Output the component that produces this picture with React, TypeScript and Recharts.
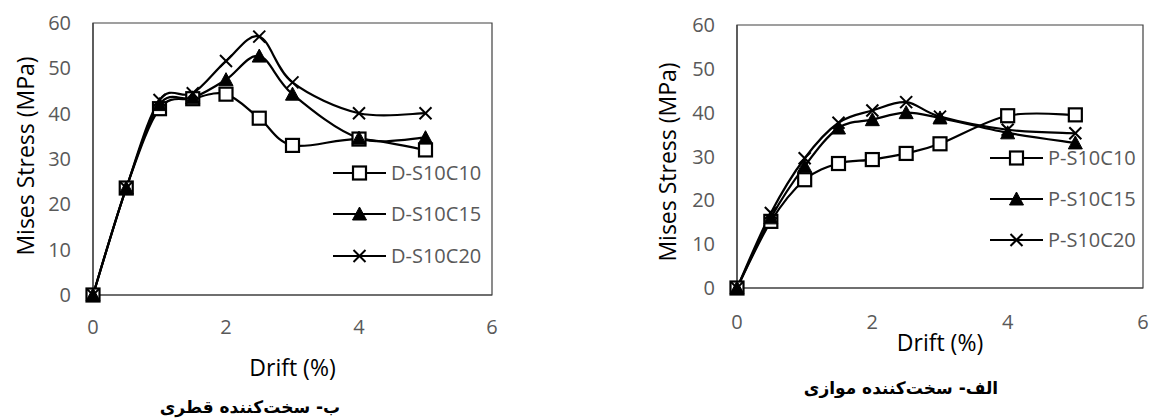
import React from "react";
import { LineChart, Line, XAxis, YAxis, Legend, ReferenceArea } from "recharts";

// drift steps (%) shared by every series
const drift = [0, 0.5, 1, 1.5, 2, 2.5, 3, 4, 5];

// diagonal stiffener (left panel)
const dS10C10 = [0, 23.6, 41.1, 43.3, 44.3, 39, 33, 34.4, 32];
const dS10C15 = [0, 23.6, 42, 43.5, 47.5, 52.7, 44.3, 34.6, 34.7];
const dS10C20 = [0, 23.6, 43, 44.5, 51.6, 57, 46.9, 40.1, 40.1];

// parallel stiffener (right panel)
const pS10C10 = [0, 15.2, 24.7, 28.4, 29.3, 30.7, 32.9, 39.3, 39.5];
const pS10C15 = [0, 16, 27.8, 36.5, 38.4, 40, 38.8, 35.4, 33.1];
const pS10C20 = [0, 17.1, 29.6, 37.7, 40.5, 42.4, 39.1, 36.1, 35.3];

const xTicks = [0, 2, 4, 6];
const yTicks = [0, 10, 20, 30, 40, 50, 60];
const markers = ["square", "triangle", "cross"];

const FONT = "'Open Sans', sans-serif";
const TICK_GRAY = "#595959";

// Excel-like smoothed line (Catmull-Rom through the points)
const excelCurve = (ctx: any) => {
  let pts: number[][] = [];
  return {
    areaStart() {},
    areaEnd() {},
    lineStart() {
      pts = [];
    },
    point(x: number, y: number) {
      pts.push([+x, +y]);
    },
    lineEnd() {
      if (!pts.length) return;
      ctx.moveTo(pts[0][0], pts[0][1]);
      for (let i = 0; i < pts.length - 1; i++) {
        const p0 = pts[i - 1] || pts[i];
        const p1 = pts[i];
        const p2 = pts[i + 1];
        const p3 = pts[i + 2] || p2;
        ctx.bezierCurveTo(
          p1[0] + (p2[0] - p0[0]) / 6,
          p1[1] + (p2[1] - p0[1]) / 6,
          p2[0] - (p3[0] - p1[0]) / 6,
          p2[1] - (p3[1] - p1[1]) / 6,
          p2[0],
          p2[1]
        );
      }
    },
  };
};

function Marker({ kind, cx, cy }: { kind: string; cx: number; cy: number }) {
  if (kind === "square") {
    return <rect x={cx - 6.5} y={cy - 6.5} width={13} height={13} fill="#fff" stroke="#000" strokeWidth={2.2} />;
  }
  if (kind === "triangle") {
    return <polygon points={`${cx},${cy - 7} ${cx + 7},${cy + 6} ${cx - 7},${cy + 6}`} fill="#000" stroke="#000" strokeWidth={1} />;
  }
  return (
    <g stroke="#000" strokeWidth={2}>
      <line x1={cx - 6} y1={cy - 6} x2={cx + 6} y2={cy + 6} />
      <line x1={cx - 6} y1={cy + 6} x2={cx + 6} y2={cy - 6} />
    </g>
  );
}

function buildRows(series: number[][]) {
  return drift.map((d, i) => ({ drift: d, a: series[0][i], b: series[1][i], c: series[2][i] }));
}

interface PanelProps {
  left: number;
  width: number;
  margin: { top: number; right: number; bottom: number; left: number };
  series: number[][];
  names: string[];
  yTitleX: number;
  yTitleY: number;
  xTitleDy: number;
  xTickMargin: number;
  legendLeft: number;
  legendTop: number;
  legendRow: number;
}

function Panel(p: PanelProps) {
  const rows = buildRows(p.series);
  const keys = ["a", "b", "c"];

  const renderLegend = (props: any) => {
    const items = props.payload || [];
    return (
      <div style={{ width: 170 }}>
        {items.map((it: any) => {
          const idx = keys.indexOf(it.dataKey);
          return (
            <div key={it.value} style={{ display: "flex", alignItems: "center", height: p.legendRow }}>
              <svg width={53} height={20}>
                <line x1={0} y1={10} x2={53} y2={10} stroke="#000" strokeWidth={2.2} />
                <Marker kind={markers[idx]} cx={26.5} cy={10} />
              </svg>
              <span style={{ marginLeft: 5, fontFamily: FONT, fontSize: 20, color: TICK_GRAY, lineHeight: "20px" }}>
                {it.value}
              </span>
            </div>
          );
        })}
      </div>
    );
  };

  return (
    <div style={{ position: "absolute", left: p.left, top: 0 }}>
      <LineChart width={p.width} height={419} data={rows} margin={p.margin}>
        <ReferenceArea x1={0} x2={6} y1={0} y2={60} fill="none" stroke="#404040" strokeWidth={1.2} />
        <XAxis
          dataKey="drift"
          type="number"
          domain={[0, 6]}
          ticks={xTicks}
          height={60}
          tickLine={false}
          tickSize={0}
          tickMargin={p.xTickMargin}
          axisLine={{ stroke: "#404040", strokeWidth: 1.2 }}
          tick={{ fill: TICK_GRAY, fontSize: 20, fontFamily: FONT }}
          label={{
            content: (lp: any) => {
              const vb = lp.viewBox;
              return (
                <text x={vb.x + vb.width / 2} y={vb.y + p.xTitleDy} textAnchor="middle" dominantBaseline="central"
                  fontFamily={FONT} fontSize={23} fill="#000">
                  Drift (%)
                </text>
              );
            },
          }}
        />
        <YAxis
          type="number"
          domain={[0, 60]}
          ticks={yTicks}
          width={60}
          tickLine={false}
          tickSize={0}
          tickMargin={22}
          axisLine={{ stroke: "#404040", strokeWidth: 1.2 }}
          tick={{ fill: TICK_GRAY, fontSize: 20, fontFamily: FONT }}
          label={{
            content: () => (
              <text x={p.yTitleX} y={p.yTitleY} textAnchor="middle" dominantBaseline="central"
                transform={`rotate(-90, ${p.yTitleX}, ${p.yTitleY})`} fontFamily={FONT} fontSize={23} fill="#000">
                Mises Stress (MPa)
              </text>
            ),
          }}
        />
        <Legend
          layout="horizontal"
          verticalAlign="middle"
          align="center"
          content={renderLegend}
          wrapperStyle={{ left: p.legendLeft, top: p.legendTop, width: 170, right: "auto", bottom: "auto" }}
        />
        {keys.map((k, i) => (
          <Line
            key={k}
            dataKey={k}
            name={p.names[i]}
            type={excelCurve as any}
            stroke="#000"
            strokeWidth={2.2}
            dot={(dp: any) => <Marker key={`${k}-${dp.index}`} kind={markers[i]} cx={dp.cx} cy={dp.cy} />}
            activeDot={false}
            isAnimationActive={false}
          />
        ))}
      </LineChart>
    </div>
  );
}

const captionStyle: React.CSSProperties = {
  position: "absolute",
  width: 300,
  textAlign: "center",
  fontFamily: "'DejaVu Sans', sans-serif",
  fontWeight: "bold",
  fontSize: 17,
  lineHeight: "24px",
  direction: "rtl",
  color: "#000",
};

export default function App() {
  return (
    <div style={{ position: "absolute", left: 0, top: 0, width: 1153, height: 419, background: "#fff", overflow: "hidden" }}>
      <Panel
        left={0}
        width={560}
        margin={{ top: 23, right: 68, bottom: 64, left: 33 }}
        series={[dS10C10, dS10C15, dS10C20]}
        names={["D-S10C10", "D-S10C15", "D-S10C20"]}
        yTitleX={25}
        yTitleY={156}
        xTitleDy={72}
        xTickMargin={25}
        legendLeft={333}
        legendTop={152}
        legendRow={41.5}
      />
      <Panel
        left={580}
        width={573}
        margin={{ top: 25, right: 10, bottom: 71, left: 97 }}
        series={[pS10C10, pS10C15, pS10C20]}
        names={["P-S10C10", "P-S10C15", "P-S10C20"]}
        yTitleX={87}
        yTitleY={162}
        xTitleDy={54}
        xTickMargin={27}
        legendLeft={410}
        legendTop={137.5}
        legendRow={41}
      />
      <div style={{ ...captionStyle, left: 100, top: 395 }}>ب- سخت‌کننده قطری</div>
      <div style={{ ...captionStyle, left: 751, top: 376 }}>الف- سخت‌کننده موازی</div>
    </div>
  );
}
